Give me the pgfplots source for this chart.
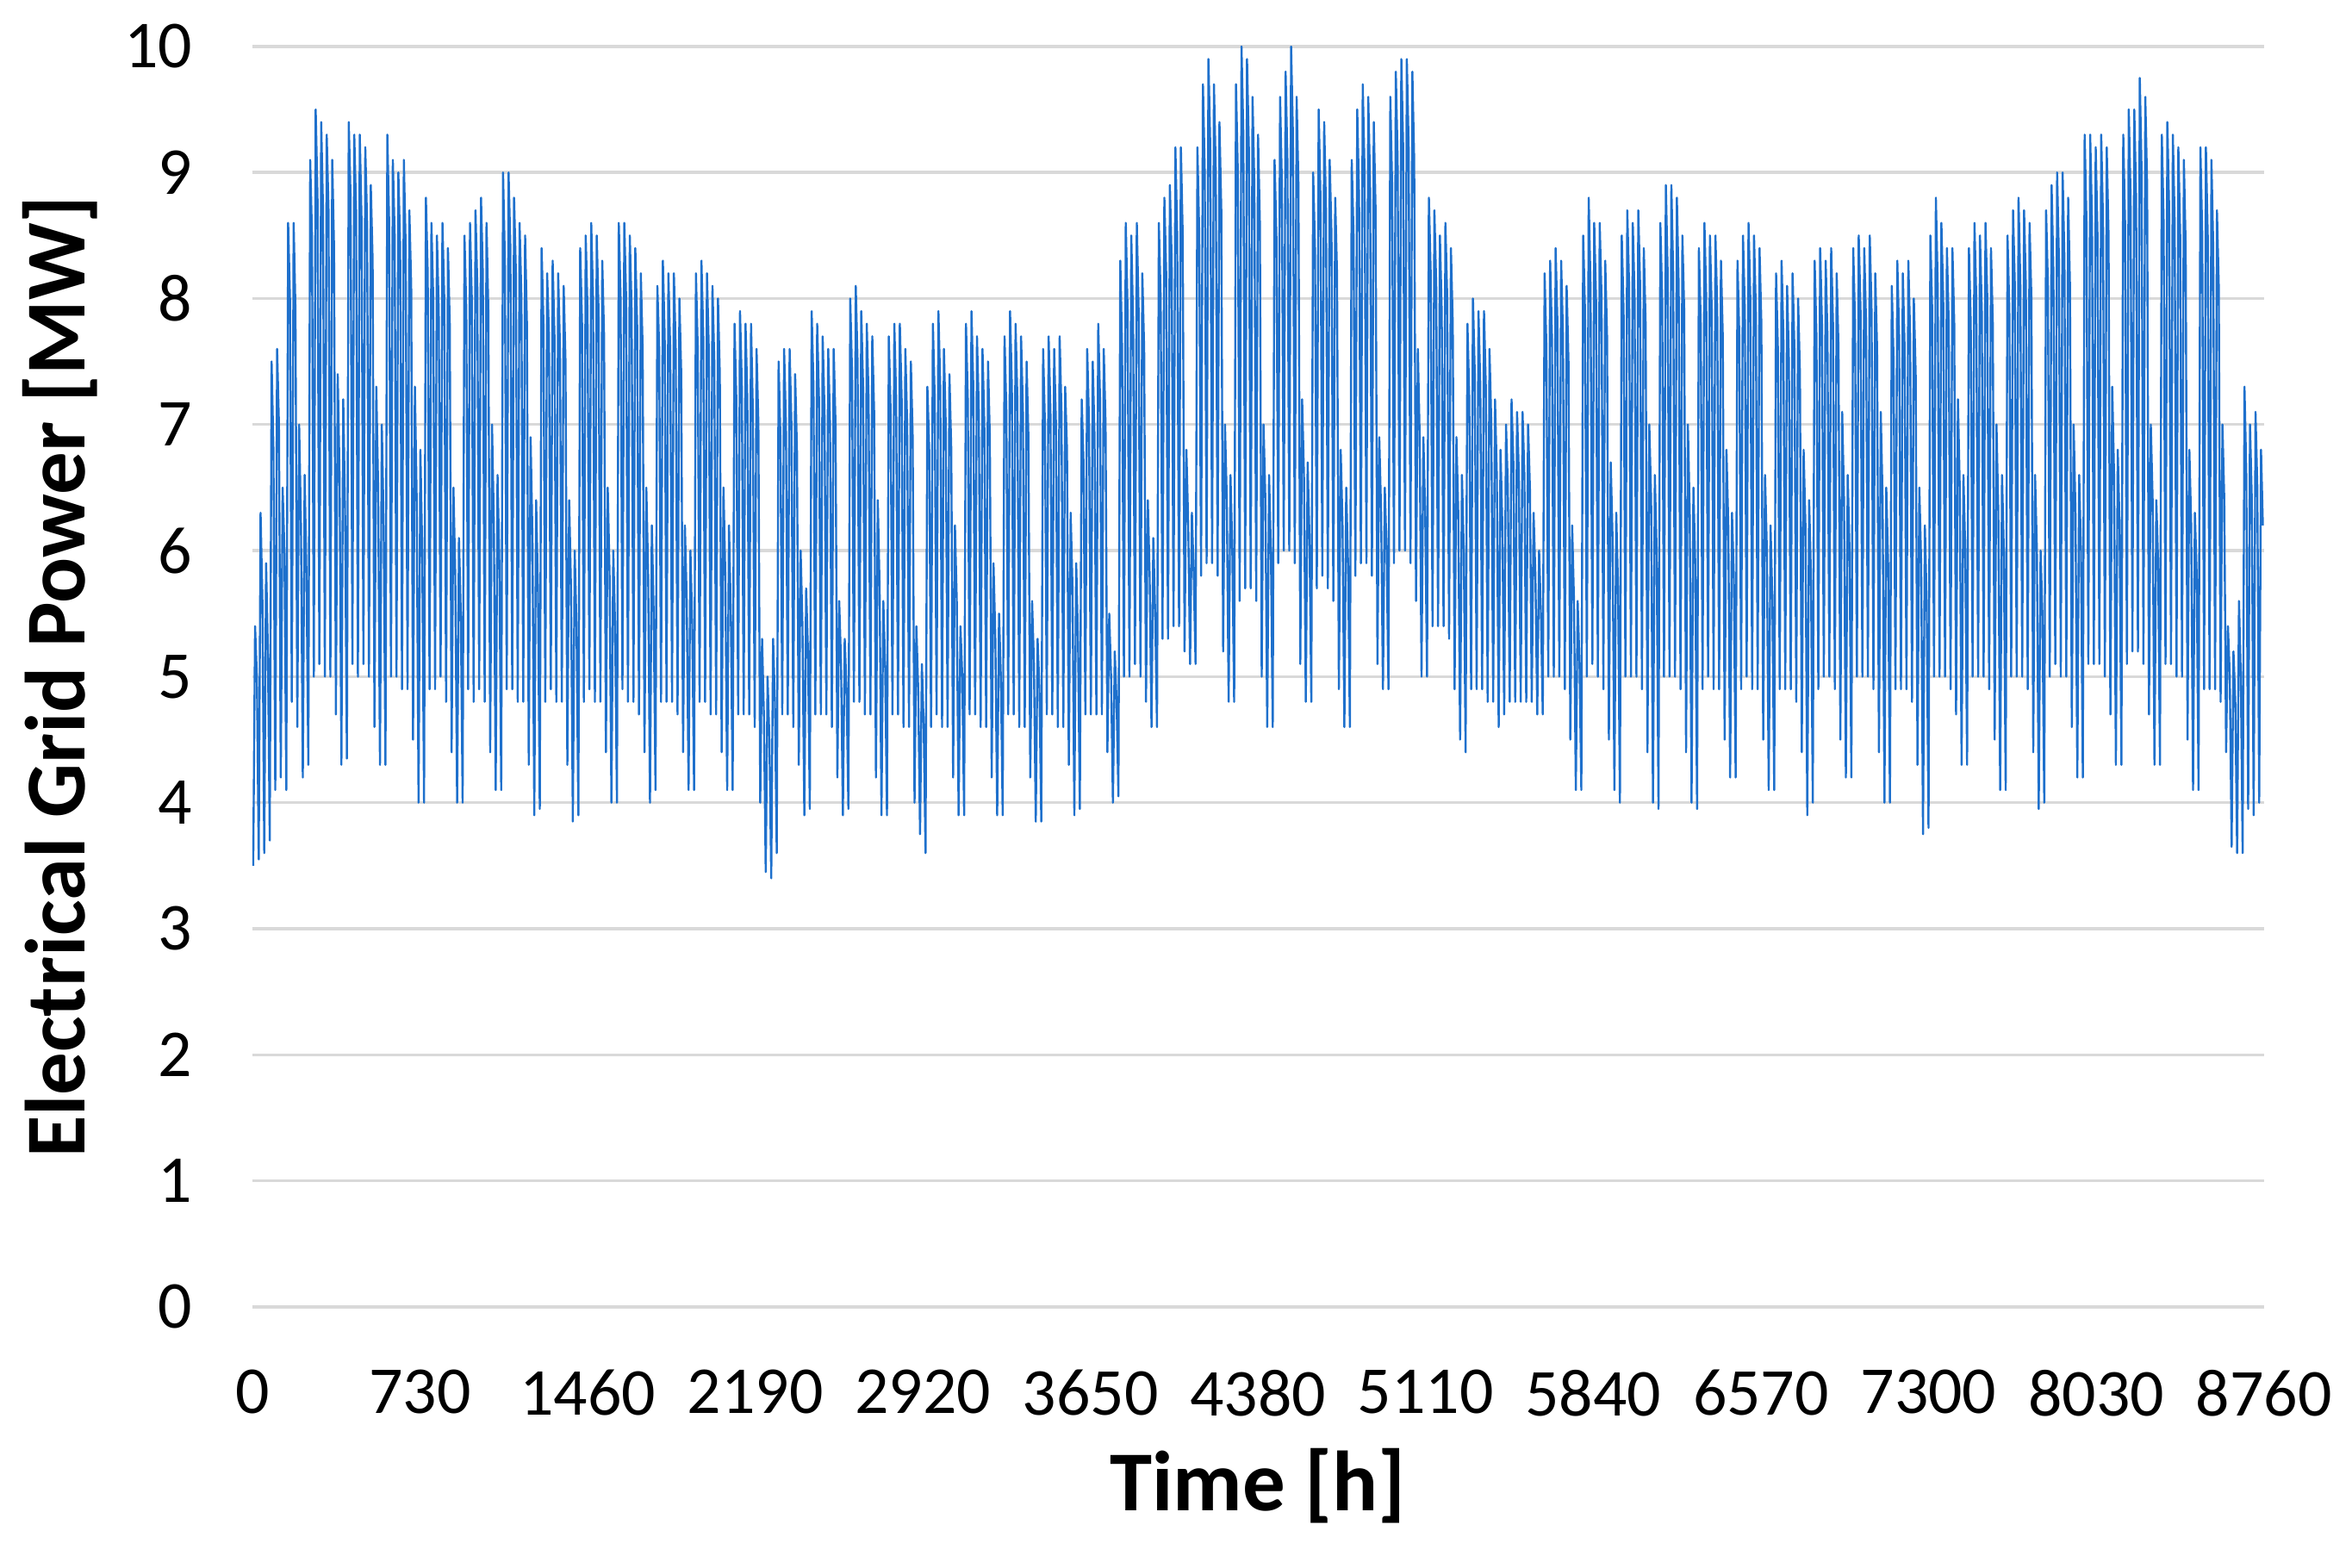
\documentclass[border=0pt]{standalone}
\usepackage{fontspec}
\setmainfont{Carlito}
\usepackage{pgfplots}
\usepackage{pgfplotstable}
\pgfplotsset{compat=1.18}
\definecolor{gridblue}{RGB}{30,112,204}
\definecolor{gridgray}{RGB}{217,217,217}

% hourly grid power, three samples a day (04h trough, 12h peak, 20h shoulder)
\pgfplotstableread[row sep=\\, header=false]{
3.5\\ 5.4\\ 5.0\\
3.55\\ 6.3\\ 5.6\\
3.6\\ 5.9\\ 5.2\\
3.7\\ 7.5\\ 6.8\\
4.1\\ 7.6\\ 7.0\\
4.2\\ 6.5\\ 6.0\\
4.1\\ 8.6\\ 8.0\\
4.8\\ 8.6\\ 7.9\\
4.6\\ 7.0\\ 6.2\\
4.2\\ 6.6\\ 5.8\\
4.3\\ 9.1\\ 8.5\\
5.0\\ 9.5\\ 8.8\\
5.1\\ 9.4\\ 8.7\\
5.0\\ 9.3\\ 8.7\\
5.0\\ 9.1\\ 8.4\\
4.7\\ 7.4\\ 6.6\\
4.3\\ 7.2\\ 6.3\\
4.35\\ 9.4\\ 8.8\\
5.1\\ 9.3\\ 8.7\\
5.0\\ 9.3\\ 8.6\\
5.1\\ 9.2\\ 8.6\\
5.0\\ 8.9\\ 8.3\\
4.6\\ 7.3\\ 6.5\\
4.3\\ 7.0\\ 6.2\\
4.3\\ 9.3\\ 8.6\\
5.0\\ 9.1\\ 8.5\\
5.0\\ 9.0\\ 8.4\\
4.9\\ 9.1\\ 8.4\\
4.9\\ 8.7\\ 8.1\\
4.5\\ 7.3\\ 6.4\\
4.0\\ 6.8\\ 6.0\\
4.0\\ 8.8\\ 8.2\\
4.9\\ 8.6\\ 8.0\\
4.9\\ 8.5\\ 7.9\\
5.0\\ 8.6\\ 8.0\\
4.8\\ 8.4\\ 7.8\\
4.4\\ 6.5\\ 5.8\\
4.0\\ 6.1\\ 5.5\\
4.0\\ 8.5\\ 7.9\\
4.9\\ 8.6\\ 8.0\\
4.8\\ 8.7\\ 8.1\\
4.9\\ 8.8\\ 8.2\\
4.8\\ 8.6\\ 7.9\\
4.4\\ 7.0\\ 6.2\\
4.1\\ 6.6\\ 5.9\\
4.1\\ 9.0\\ 8.3\\
4.9\\ 9.0\\ 8.4\\
4.9\\ 8.8\\ 8.2\\
4.8\\ 8.6\\ 8.0\\
4.8\\ 8.5\\ 7.8\\
4.3\\ 6.9\\ 6.1\\
3.9\\ 6.4\\ 5.7\\
3.95\\ 8.4\\ 7.8\\
4.8\\ 8.2\\ 7.7\\
4.9\\ 8.3\\ 7.7\\
4.8\\ 8.2\\ 7.6\\
4.8\\ 8.1\\ 7.5\\
4.3\\ 6.4\\ 5.7\\
3.85\\ 6.0\\ 5.4\\
3.9\\ 8.4\\ 7.8\\
4.8\\ 8.5\\ 7.9\\
4.9\\ 8.6\\ 8.0\\
4.8\\ 8.5\\ 7.9\\
4.8\\ 8.3\\ 7.7\\
4.4\\ 6.5\\ 5.8\\
4.0\\ 6.0\\ 5.4\\
4.0\\ 8.6\\ 8.0\\
4.9\\ 8.6\\ 8.0\\
4.8\\ 8.5\\ 7.9\\
4.8\\ 8.4\\ 7.8\\
4.7\\ 8.2\\ 7.6\\
4.4\\ 6.5\\ 5.8\\
4.0\\ 6.2\\ 5.5\\
4.1\\ 8.1\\ 7.6\\
4.8\\ 8.3\\ 7.7\\
4.8\\ 8.2\\ 7.6\\
4.8\\ 8.2\\ 7.6\\
4.7\\ 8.0\\ 7.4\\
4.4\\ 6.2\\ 5.6\\
4.1\\ 6.0\\ 5.4\\
4.1\\ 8.2\\ 7.6\\
4.8\\ 8.3\\ 7.7\\
4.8\\ 8.2\\ 7.6\\
4.7\\ 8.1\\ 7.5\\
4.7\\ 8.0\\ 7.4\\
4.4\\ 6.5\\ 5.8\\
4.1\\ 6.2\\ 5.5\\
4.1\\ 7.8\\ 7.2\\
4.7\\ 7.9\\ 7.3\\
4.7\\ 7.8\\ 7.2\\
4.7\\ 7.8\\ 7.1\\
4.6\\ 7.6\\ 7.0\\
4.0\\ 5.3\\ 4.7\\
3.45\\ 5.0\\ 4.5\\
3.4\\ 5.3\\ 4.8\\
3.6\\ 7.5\\ 6.9\\
4.7\\ 7.6\\ 7.0\\
4.7\\ 7.6\\ 7.0\\
4.6\\ 7.4\\ 6.8\\
4.3\\ 6.0\\ 5.4\\
3.9\\ 5.7\\ 5.2\\
3.95\\ 7.9\\ 7.3\\
4.7\\ 7.8\\ 7.2\\
4.7\\ 7.7\\ 7.1\\
4.7\\ 7.6\\ 7.0\\
4.6\\ 7.6\\ 7.0\\
4.2\\ 5.6\\ 5.1\\
3.9\\ 5.3\\ 4.9\\
3.95\\ 8.0\\ 7.4\\
4.8\\ 8.1\\ 7.5\\
4.8\\ 7.9\\ 7.3\\
4.7\\ 7.8\\ 7.2\\
4.7\\ 7.7\\ 7.1\\
4.2\\ 6.4\\ 5.7\\
3.9\\ 5.6\\ 5.1\\
3.9\\ 7.7\\ 7.1\\
4.7\\ 7.8\\ 7.2\\
4.7\\ 7.8\\ 7.2\\
4.6\\ 7.6\\ 7.0\\
4.6\\ 7.5\\ 6.9\\
4.0\\ 5.4\\ 4.9\\
3.75\\ 5.1\\ 4.6\\
3.6\\ 7.3\\ 6.8\\
4.6\\ 7.8\\ 7.2\\
4.7\\ 7.9\\ 7.3\\
4.6\\ 7.6\\ 7.0\\
4.6\\ 7.4\\ 6.8\\
4.2\\ 6.2\\ 5.6\\
3.9\\ 5.4\\ 5.0\\
3.9\\ 7.8\\ 7.2\\
4.7\\ 7.9\\ 7.3\\
4.7\\ 7.7\\ 7.1\\
4.6\\ 7.6\\ 7.0\\
4.6\\ 7.5\\ 6.9\\
4.2\\ 5.9\\ 5.3\\
3.9\\ 5.5\\ 5.0\\
3.9\\ 7.7\\ 7.1\\
4.7\\ 7.9\\ 7.3\\
4.7\\ 7.8\\ 7.2\\
4.6\\ 7.7\\ 7.1\\
4.6\\ 7.5\\ 6.9\\
4.2\\ 5.6\\ 5.1\\
3.85\\ 5.3\\ 4.9\\
3.85\\ 7.6\\ 7.0\\
4.7\\ 7.7\\ 7.1\\
4.7\\ 7.6\\ 7.0\\
4.6\\ 7.7\\ 7.1\\
4.6\\ 7.3\\ 6.8\\
4.3\\ 6.3\\ 5.7\\
3.9\\ 5.9\\ 5.3\\
3.95\\ 7.2\\ 6.7\\
4.7\\ 7.6\\ 7.0\\
4.7\\ 7.5\\ 6.9\\
4.7\\ 7.8\\ 7.2\\
4.7\\ 7.6\\ 7.0\\
4.4\\ 5.5\\ 5.0\\
4.0\\ 5.2\\ 4.8\\
4.05\\ 8.3\\ 7.6\\
5.0\\ 8.6\\ 7.9\\
5.0\\ 8.5\\ 7.8\\
5.1\\ 8.6\\ 7.9\\
5.0\\ 8.2\\ 7.6\\
4.8\\ 6.4\\ 5.8\\
4.6\\ 6.1\\ 5.5\\
4.6\\ 8.6\\ 8.0\\
5.3\\ 8.8\\ 8.2\\
5.3\\ 8.9\\ 8.3\\
5.4\\ 9.2\\ 8.5\\
5.4\\ 9.2\\ 8.5\\
5.2\\ 6.8\\ 6.2\\
5.1\\ 6.3\\ 5.8\\
5.1\\ 9.2\\ 8.5\\
5.8\\ 9.7\\ 9.0\\
5.9\\ 9.9\\ 9.2\\
5.9\\ 9.7\\ 9.0\\
5.8\\ 9.4\\ 8.7\\
5.2\\ 7.0\\ 6.4\\
4.8\\ 6.6\\ 6.0\\
4.8\\ 9.7\\ 9.0\\
5.6\\ 10.0\\ 9.3\\
5.7\\ 9.9\\ 9.2\\
5.7\\ 9.6\\ 8.9\\
5.6\\ 9.3\\ 8.6\\
5.0\\ 7.0\\ 6.4\\
4.6\\ 6.6\\ 6.0\\
4.6\\ 9.1\\ 8.5\\
5.9\\ 9.6\\ 8.9\\
6.0\\ 9.8\\ 9.1\\
6.0\\ 10.0\\ 9.3\\
5.9\\ 9.6\\ 8.9\\
5.1\\ 7.2\\ 6.6\\
4.8\\ 6.7\\ 6.1\\
4.8\\ 9.0\\ 8.4\\
5.7\\ 9.5\\ 8.8\\
5.8\\ 9.4\\ 8.7\\
5.7\\ 9.1\\ 8.5\\
5.6\\ 8.8\\ 8.2\\
4.9\\ 6.8\\ 6.2\\
4.6\\ 6.5\\ 5.9\\
4.6\\ 9.1\\ 8.5\\
5.8\\ 9.5\\ 8.8\\
5.9\\ 9.7\\ 9.0\\
5.9\\ 9.6\\ 8.9\\
5.8\\ 9.4\\ 8.7\\
5.1\\ 6.9\\ 6.3\\
4.9\\ 6.5\\ 6.0\\
4.9\\ 9.6\\ 8.9\\
5.9\\ 9.8\\ 9.1\\
6.0\\ 9.9\\ 9.2\\
6.0\\ 9.9\\ 9.2\\
5.9\\ 9.8\\ 9.1\\
5.6\\ 7.6\\ 6.9\\
5.0\\ 6.9\\ 6.3\\
5.0\\ 8.8\\ 8.2\\
5.4\\ 8.7\\ 8.1\\
5.4\\ 8.5\\ 7.9\\
5.4\\ 8.6\\ 8.0\\
5.3\\ 8.4\\ 7.8\\
4.9\\ 6.9\\ 6.3\\
4.5\\ 6.6\\ 6.0\\
4.4\\ 7.8\\ 7.2\\
4.9\\ 8.0\\ 7.4\\
4.9\\ 7.9\\ 7.3\\
4.9\\ 7.9\\ 7.3\\
4.8\\ 7.6\\ 7.0\\
4.8\\ 7.2\\ 6.6\\
4.6\\ 6.8\\ 6.2\\
4.7\\ 7.0\\ 6.5\\
4.8\\ 7.2\\ 6.7\\
4.8\\ 7.1\\ 6.6\\
4.8\\ 7.1\\ 6.6\\
4.8\\ 7.0\\ 6.5\\
4.8\\ 6.3\\ 5.8\\
4.7\\ 6.0\\ 5.5\\
4.7\\ 8.2\\ 7.6\\
5.0\\ 8.3\\ 7.7\\
5.0\\ 8.4\\ 7.8\\
5.0\\ 8.3\\ 7.7\\
4.9\\ 8.1\\ 7.5\\
4.5\\ 6.2\\ 5.6\\
4.1\\ 5.6\\ 5.1\\
4.1\\ 8.5\\ 7.9\\
5.0\\ 8.8\\ 8.1\\
5.1\\ 8.6\\ 8.0\\
5.0\\ 8.6\\ 8.0\\
4.9\\ 8.3\\ 7.7\\
4.5\\ 6.7\\ 6.1\\
4.1\\ 6.3\\ 5.7\\
4.0\\ 8.5\\ 7.9\\
5.0\\ 8.7\\ 8.1\\
5.0\\ 8.6\\ 8.0\\
5.0\\ 8.7\\ 8.1\\
4.9\\ 8.4\\ 7.8\\
4.4\\ 7.0\\ 6.4\\
4.0\\ 6.6\\ 6.0\\
3.95\\ 8.6\\ 8.0\\
5.0\\ 8.9\\ 8.2\\
5.0\\ 8.9\\ 8.2\\
5.0\\ 8.8\\ 8.1\\
4.9\\ 8.5\\ 7.9\\
4.4\\ 7.0\\ 6.3\\
4.0\\ 6.5\\ 5.9\\
3.95\\ 8.4\\ 7.8\\
4.9\\ 8.6\\ 8.0\\
5.0\\ 8.5\\ 7.9\\
4.9\\ 8.5\\ 7.9\\
4.9\\ 8.3\\ 7.7\\
4.5\\ 6.8\\ 6.2\\
4.2\\ 6.3\\ 5.8\\
4.2\\ 8.3\\ 7.7\\
4.9\\ 8.5\\ 7.9\\
5.0\\ 8.6\\ 8.0\\
4.9\\ 8.5\\ 7.9\\
4.9\\ 8.4\\ 7.8\\
4.5\\ 6.6\\ 6.0\\
4.1\\ 6.2\\ 5.6\\
4.1\\ 8.2\\ 7.6\\
4.9\\ 8.3\\ 7.7\\
4.9\\ 8.1\\ 7.5\\
4.9\\ 8.2\\ 7.6\\
4.8\\ 8.0\\ 7.4\\
4.4\\ 6.8\\ 6.2\\
3.9\\ 6.4\\ 5.8\\
4.0\\ 8.3\\ 7.7\\
4.9\\ 8.4\\ 7.8\\
5.0\\ 8.3\\ 7.7\\
5.0\\ 8.4\\ 7.8\\
4.9\\ 8.2\\ 7.6\\
4.5\\ 7.1\\ 6.4\\
4.2\\ 6.6\\ 6.0\\
4.2\\ 8.4\\ 7.8\\
5.0\\ 8.5\\ 7.9\\
5.0\\ 8.4\\ 7.8\\
5.0\\ 8.5\\ 7.9\\
4.9\\ 8.2\\ 7.6\\
4.4\\ 7.1\\ 6.4\\
4.0\\ 6.5\\ 5.9\\
4.0\\ 8.1\\ 7.5\\
4.9\\ 8.3\\ 7.7\\
4.9\\ 8.2\\ 7.6\\
4.9\\ 8.3\\ 7.7\\
4.8\\ 8.0\\ 7.4\\
4.3\\ 6.5\\ 5.9\\
3.75\\ 6.2\\ 5.6\\
3.8\\ 8.5\\ 7.9\\
5.0\\ 8.8\\ 8.1\\
5.0\\ 8.6\\ 8.0\\
5.0\\ 8.4\\ 7.8\\
4.9\\ 8.4\\ 7.8\\
4.7\\ 7.2\\ 6.5\\
4.3\\ 6.6\\ 6.0\\
4.3\\ 8.4\\ 7.8\\
5.0\\ 8.6\\ 8.0\\
5.0\\ 8.5\\ 7.9\\
5.0\\ 8.6\\ 8.0\\
4.9\\ 8.4\\ 7.8\\
4.5\\ 7.0\\ 6.3\\
4.1\\ 6.6\\ 6.0\\
4.1\\ 8.5\\ 7.9\\
5.0\\ 8.7\\ 8.1\\
5.0\\ 8.8\\ 8.1\\
5.0\\ 8.7\\ 8.1\\
4.9\\ 8.6\\ 8.0\\
4.4\\ 6.6\\ 6.0\\
3.95\\ 6.0\\ 5.5\\
4.0\\ 8.7\\ 8.1\\
5.0\\ 8.9\\ 8.2\\
5.1\\ 9.0\\ 8.3\\
5.0\\ 9.0\\ 8.3\\
5.0\\ 8.8\\ 8.1\\
4.6\\ 7.0\\ 6.3\\
4.2\\ 6.6\\ 6.0\\
4.2\\ 9.3\\ 8.6\\
5.1\\ 9.3\\ 8.6\\
5.1\\ 9.2\\ 8.5\\
5.1\\ 9.3\\ 8.6\\
5.0\\ 9.2\\ 8.5\\
4.7\\ 7.3\\ 6.6\\
4.3\\ 6.8\\ 6.2\\
4.3\\ 9.3\\ 8.6\\
5.1\\ 9.5\\ 8.8\\
5.2\\ 9.5\\ 8.8\\
5.2\\ 9.75\\ 9.0\\
5.1\\ 9.6\\ 8.9\\
4.7\\ 7.0\\ 6.4\\
4.3\\ 6.4\\ 5.9\\
4.3\\ 9.3\\ 8.6\\
5.1\\ 9.4\\ 8.7\\
5.1\\ 9.3\\ 8.6\\
5.0\\ 9.2\\ 8.5\\
5.0\\ 9.1\\ 8.4\\
4.5\\ 6.8\\ 6.2\\
4.1\\ 6.3\\ 5.8\\
4.1\\ 9.2\\ 8.5\\
4.9\\ 9.2\\ 8.5\\
4.9\\ 9.1\\ 8.4\\
4.9\\ 8.7\\ 8.1\\
4.8\\ 7.0\\ 6.4\\
4.4\\ 5.4\\ 5.0\\
3.65\\ 5.2\\ 4.8\\
3.6\\ 5.6\\ 5.0\\
3.6\\ 7.3\\ 6.6\\
3.95\\ 7.0\\ 6.4\\
3.9\\ 7.1\\ 6.5\\
4.0\\ 6.8\\ 6.2\\
}\griddata

\begin{document}
\begin{tikzpicture}
\path[use as bounding box] (-42.9pt,-44.4pt) rectangle (357pt,222.2pt);
\begin{axis}[
    width=342pt, height=214.3pt,
    scale only axis,
    xmin=0, xmax=8760,
    ymin=0, ymax=10,
    xtick={0,730,...,8760},
    ytick={0,1,...,10},
    axis line style={draw=none},
    major tick length=0pt,
    ymajorgrids,
    grid style={gridgray, line width=0.5pt},
    /pgf/number format/assume math mode=true,
    /pgf/number format/1000 sep={},
    tick label style={font=\fontsize{11.4}{13}\selectfont},
    yticklabel style={xshift=-6.7pt},
    xticklabel style={yshift=-7.2pt},
    every axis x label/.style={at={(axis description cs:0.5,-0.142)}, anchor=center},
    every axis y label/.style={at={(axis description cs:-0.0956,0.5)}, anchor=center, rotate=90},
    xlabel={\fontsize{14.5}{17}\selectfont\bfseries Time [h]},
    ylabel={\fontsize{14.5}{17}\selectfont\bfseries Electrical Grid Power [MW]},
    clip=true,
]
\addplot[gridblue, line width=0.35pt, line join=round] table[x expr=\coordindex*8+4, y index=0] {\griddata};
\end{axis}
\end{tikzpicture}
\end{document}
